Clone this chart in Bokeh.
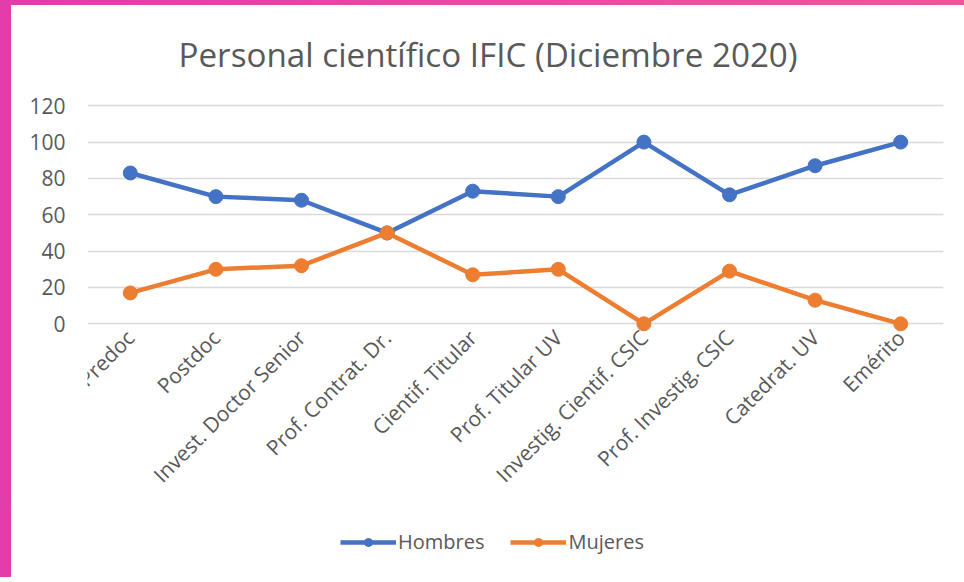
import math
from bokeh.plotting import figure
from bokeh.models import Legend, LegendItem, Range1d, FixedTicker
from bokeh.embed import file_html
from bokeh.resources import INLINE

categories = ["Predoc", "Postdoc", "Invest. Doctor Senior", "Prof. Contrat. Dr.",
              "Cientif. Titular", "Prof. Titular UV", "Investig. Cientif. CSIC",
              "Prof. Investig. CSIC", "Catedrat. UV", "Emérito"]
hombres = [83, 70, 68, 50, 73, 70, 100, 71, 87, 100]
mujeres = [17, 30, 32, 50, 27, 30, 0, 29, 13, 0]
y_ticks = [0, 20, 40, 60, 80, 100, 120]

FONT = "Open Sans"
GREY = "#595959"
BLUE = "#4472C4"
ORANGE = "#ED7D31"

# frame reaches down to the legend; the category axis is pinned at y = 0
p = figure(x_range=categories, y_range=Range1d(-138.5, 124),
           frame_width=856, frame_height=477,
           output_backend="svg", toolbar_location=None,
           min_border_left=76, min_border_right=21, min_border_top=93, min_border_bottom=2,
           title="Personal científico IFIC (Diciembre 2020)")
p.outline_line_color = None
p.background_fill_color = "white"
p.border_fill_color = "white"
p.styles = {
    "box-sizing": "content-box",
    "border-left": "11px solid #E33CAB",
    "border-top": "5px solid #E8459F",
    "border-image": "linear-gradient(to right, #E33CAB, #F0559A) 1",
}

p.title.align = "left"
p.title.offset = 91
p.title.text_font = FONT
p.title.text_font_size = "33.2px"
p.title.text_font_style = "normal"
p.title.text_color = GREY
p.title.standoff = 44

p.xgrid.grid_line_color = None
p.ygrid.ticker = FixedTicker(ticks=y_ticks)
p.ygrid.grid_line_color = "#d9d9d9"
p.ygrid.grid_line_width = 1.5

p.yaxis.ticker = FixedTicker(ticks=y_ticks)
for ax in (p.xaxis, p.yaxis):
    ax.axis_line_color = None
    ax.major_tick_line_color = None
    ax.minor_tick_line_color = None
    ax.major_label_text_font = FONT
    ax.major_label_text_color = GREY
    ax.major_label_text_font_size = "21px"
p.yaxis.major_label_standoff = 16
p.xaxis.fixed_location = 0
p.xaxis.major_label_orientation = math.pi / 4
p.xaxis.major_label_standoff = 4
p.xaxis.major_label_text_font_size = "21px"

lh = p.line(categories, hombres, line_color=BLUE, line_width=4.5)
sh = p.scatter(categories, hombres, size=14, fill_color=BLUE, line_color=BLUE)
lm = p.line(categories, mujeres, line_color=ORANGE, line_width=4.5)
sm = p.scatter(categories, mujeres, size=14, fill_color=ORANGE, line_color=ORANGE)

legend = Legend(items=[LegendItem(label="Hombres", renderers=[lh, sh]),
                       LegendItem(label="Mujeres", renderers=[lm, sm])],
                orientation="horizontal", location=(253, 20))
legend.border_line_color = None
legend.background_fill_alpha = 0
legend.label_text_font = FONT
legend.label_text_font_size = "20px"
legend.label_text_color = GREY
legend.glyph_width = 56
legend.glyph_height = 20
legend.label_height = 20
legend.label_standoff = 2
legend.spacing = 26
legend.padding = 0
legend.margin = 0
p.add_layout(legend, "center")

open("out.html", "w").write(file_html(p, INLINE))
